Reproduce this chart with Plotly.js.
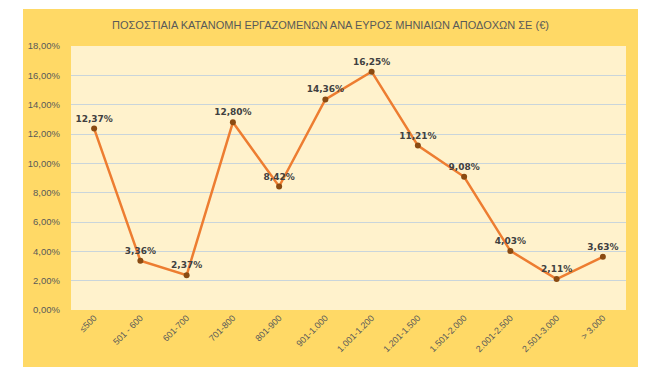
<!DOCTYPE html>
<html>
<head>
<meta charset="utf-8">
<script src="https://cdn.plot.ly/plotly-3.0.1.min.js"></script>
<style>
html,body{margin:0;padding:0;background:#ffffff;}
#chart{position:absolute;left:23px;top:9px;width:615px;height:358px;}
</style>
</head>
<body>
<div id="chart"></div>
<script>
const categories = ["≤500","501 - 600","601-700","701-800","801-900","901-1.000","1.001-1.200","1.201-1.500","1.501-2.000","2.001-2.500","2.501-3.000","> 3.000"];
const values = [12.37, 3.36, 2.37, 12.80, 8.42, 14.36, 16.25, 11.21, 9.08, 4.03, 2.11, 3.63];
const yTicks = [0, 2, 4, 6, 8, 10, 12, 14, 16, 18];
const chartTitle = "ΠΟΣΟΣΤΙΑΙΑ ΚΑΤΑΝΟΜΗ ΕΡΓΑΖΟΜΕΝΩΝ ΑΝΑ ΕΥΡΟΣ ΜΗΝΙΑΙΩΝ ΑΠΟΔΟΧΩΝ ΣΕ (€)";

const fmt = v => v.toFixed(2).replace('.', ',') + '%';
const font = "Liberation Sans Narrow, Liberation Sans, Arial, sans-serif";

const trace = {
  x: categories,
  y: values,
  type: 'scatter',
  mode: 'lines+markers+text',
  line: {color: '#ED7D31', width: 2.5},
  marker: {color: '#8A4B12', size: 6},
  text: values.map(fmt),
  textposition: 'top center',
  textfont: {family: "DejaVu Sans, sans-serif", size: 9, color: '#404040', weight: 'bold'},
  cliponaxis: false,
  hoverinfo: 'none'
};

const layout = {
  width: 615, height: 358,
  paper_bgcolor: '#FFD966',
  plot_bgcolor: '#FFF2CC',
  margin: {l: 48, r: 12, t: 37, b: 57},
  separators: ',.',
  showlegend: false,
  title: {text: chartTitle, x: 0.5, xanchor: 'center', y: 0.955, yanchor: 'middle',
          font: {family: font, size: 11, color: '#595959'}},
  xaxis: {
    type: 'category', range: [-0.5, categories.length - 0.5],
    tickangle: -45, showgrid: false, zeroline: false, showline: false,
    ticks: '', tickfont: {family: font, size: 9, color: '#595959'}
  },
  yaxis: {
    range: [0, 18], tickvals: yTicks, ticktext: yTicks.map(v => v.toFixed(2).replace('.', ',') + '%'),
    showgrid: true, gridcolor: '#C9D5DB', gridwidth: 1, zeroline: false, showline: false,
    ticks: '', ticklabelstandoff: 10,
    tickfont: {family: font, size: 9.5, color: '#595959'}
  }
};

Plotly.newPlot('chart', [trace], layout, {displayModeBar: false, staticPlot: true});
</script>
</body>
</html>
